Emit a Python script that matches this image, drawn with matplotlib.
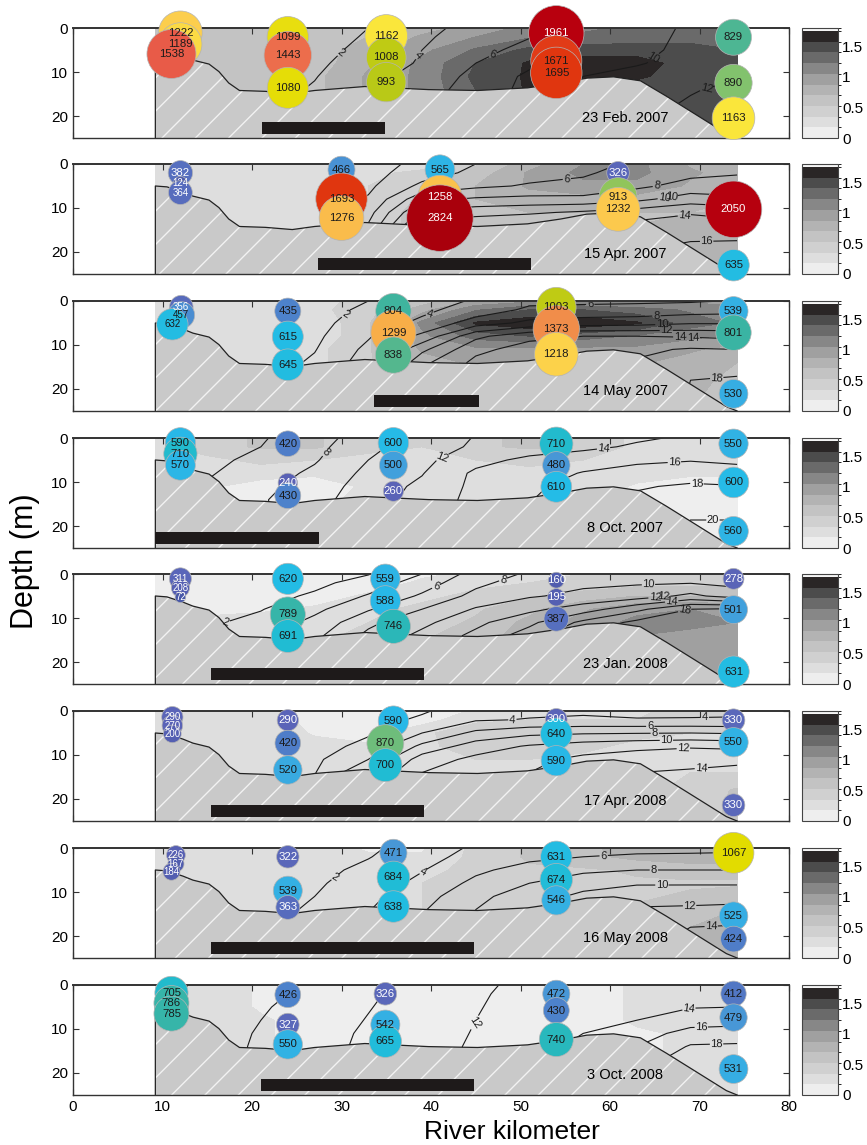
import numpy as np
import matplotlib
matplotlib.use("Agg")
import matplotlib.pyplot as plt
from matplotlib.colors import ListedColormap, BoundaryNorm, LinearSegmentedColormap, Normalize
from matplotlib.patches import Polygon, Rectangle
from matplotlib.cm import ScalarMappable

plt.rcParams['font.family'] = ['Liberation Sans', 'DejaVu Sans']
plt.rcParams['hatch.linewidth'] = 1.0

# ------------------------------------------------------------------ data
GRID_KM = [9.2, 15, 21, 27, 33, 39, 45, 51, 57, 63, 69, 74.2]
GRID_DEPTH = [0, 2, 5, 8, 11, 14, 18, 25]

BATH_KM = [9.2, 10.5, 12.3, 13.4, 15.2, 16.3, 17.4, 18.6, 21.5, 24.5, 27.0, 32.6,
           39.7, 45.2, 50.8, 54.5, 57.4, 60.4, 63.4, 66.3, 69.3, 73.0, 74.2]
BATH_DEPTH = [5.0, 5.2, 6.4, 7.3, 8.2, 9.9, 12.5, 14.2, 14.4, 14.9, 14.2, 13.3,
              14.0, 14.2, 13.6, 12.5, 11.4, 11.1, 12.0, 15.5, 19.3, 24.0, 25.0]

DATES = ["23 Feb. 2007", "15 Apr. 2007", "14 May 2007", "8 Oct. 2007",
         "23 Jan. 2008", "17 Apr. 2008", "16 May 2008", "3 Oct. 2008"]
BAR_START = [21.1, 27.4, 33.6, 9.2, 15.4, 15.4, 15.4, 21.0]
BAR_END = [34.9, 51.2, 45.4, 27.5, 39.2, 39.2, 44.8, 44.8]

SAL_LEVELS = [2, 4, 6, 8, 10, 12, 14, 16, 18, 20]
GRAY_LEVELS = [0, 0.175, 0.35, 0.525, 0.7, 0.875, 1.05, 1.225, 1.4, 1.575, 1.75, 1.8]

# salinity fields (rows = GRID_DEPTH, cols = GRID_KM)
SAL_1 = [
    [0.2, 0.3, 0.5, 1.0, 2.0, 3.5, 4.6, 5.6, 8.2, 9.2, 10.3, 10.8],
    [0.2, 0.3, 0.6, 1.1, 2.2, 3.7, 4.9, 5.9, 8.4, 9.3, 10.4, 10.9],
    [0.2, 0.3, 0.7, 1.3, 2.6, 4.0, 5.3, 6.7, 8.8, 9.5, 10.5, 11.0],
    [0.2, 0.4, 0.8, 1.6, 3.0, 4.2, 6.0, 7.6, 9.2, 9.8, 10.9, 11.4],
    [0.3, 0.5, 1.0, 1.9, 3.5, 4.6, 6.6, 8.4, 10.0, 10.8, 11.5, 11.9],
    [0.3, 0.5, 1.2, 2.2, 3.8, 5.0, 7.0, 8.5, 10.4, 11.3, 11.9, 12.3],
    [0.3, 0.5, 1.2, 2.2, 3.8, 5.0, 7.0, 8.5, 10.5, 11.6, 12.2, 12.5],
    [0.3, 0.5, 1.2, 2.2, 3.8, 5.0, 7.0, 8.5, 10.5, 11.8, 12.4, 12.8]]
SAL_2 = [
    [0.3, 0.3, 0.4, 0.6, 1.2, 2.5, 4.0, 5.0, 5.6, 6.2, 7.0, 7.6],
    [0.3, 0.3, 0.4, 0.6, 1.3, 3.0, 4.5, 5.3, 5.8, 6.6, 7.5, 7.9],
    [0.3, 0.3, 0.4, 0.7, 1.6, 4.5, 5.6, 6.2, 6.4, 7.6, 8.7, 8.5],
    [0.3, 0.3, 0.5, 0.9, 2.2, 7.5, 8.3, 8.6, 8.6, 9.5, 11.0, 10.6],
    [0.3, 0.4, 0.6, 1.2, 3.2, 10.5, 11.3, 11.7, 12.3, 13.0, 13.8, 13.3],
    [0.3, 0.4, 0.7, 1.5, 4.2, 13.0, 13.5, 14.0, 14.3, 14.6, 15.0, 14.8],
    [0.3, 0.4, 0.7, 1.5, 4.2, 13.0, 13.5, 14.0, 14.5, 15.5, 16.1, 16.2],
    [0.3, 0.4, 0.7, 1.5, 4.2, 13.0, 13.5, 14.0, 14.5, 16.0, 17.0, 17.0]]
SAL_3 = [
    [0.3, 0.4, 0.6, 1.0, 2.0, 3.2, 4.2, 5.5, 5.6, 5.7, 5.8, 6.1],
    [0.3, 0.4, 0.6, 1.2, 2.4, 3.6, 4.8, 6.4, 6.6, 6.7, 7.0, 7.2],
    [0.3, 0.4, 0.7, 1.4, 3.0, 4.4, 7.0, 8.5, 9.0, 9.2, 9.8, 9.8],
    [0.3, 0.4, 0.8, 1.6, 3.8, 6.5, 11.5, 13.5, 14.0, 14.0, 13.8, 13.5],
    [0.3, 0.5, 0.9, 1.9, 4.5, 9.5, 13.5, 14.8, 15.3, 15.6, 16.2, 16.0],
    [0.4, 0.5, 1.0, 2.3, 5.0, 11.5, 14.5, 15.3, 15.8, 16.2, 17.2, 17.3],
    [0.4, 0.5, 1.0, 2.3, 5.0, 11.5, 14.5, 15.3, 15.8, 16.4, 18.0, 18.2],
    [0.4, 0.5, 1.0, 2.3, 5.0, 11.5, 14.5, 15.3, 15.8, 16.5, 18.3, 18.5]]
SAL_4 = [
    [4.3, 5.0, 5.8, 7.2, 9.0, 10.9, 12.1, 12.6, 13.0, 13.7, 14.3, 14.5],
    [4.4, 5.2, 6.0, 7.4, 9.5, 11.0, 12.3, 12.9, 13.5, 14.3, 15.0, 15.2],
    [4.6, 5.5, 6.5, 7.8, 10.0, 11.5, 13.3, 14.5, 15.2, 15.6, 15.9, 15.6],
    [4.9, 5.8, 7.0, 8.4, 10.5, 11.9, 14.4, 15.2, 16.1, 16.8, 17.0, 16.8],
    [5.2, 6.2, 7.5, 8.8, 11.0, 12.4, 14.5, 15.6, 16.8, 17.8, 18.3, 18.1],
    [5.3, 6.4, 7.8, 9.2, 11.3, 12.6, 14.7, 15.9, 17.2, 18.4, 18.8, 18.7],
    [5.3, 6.4, 7.8, 9.2, 11.3, 12.6, 14.7, 15.9, 17.4, 19.0, 19.9, 19.9],
    [5.3, 6.4, 7.8, 9.2, 11.3, 12.6, 14.7, 15.9, 17.5, 19.5, 21.0, 21.0]]
SAL_5 = [
    [0.2, 0.4, 0.7, 1.2, 1.9, 4.0, 6.8, 8.3, 9.0, 9.4, 9.6, 9.2],
    [0.3, 0.5, 0.9, 1.5, 2.8, 5.0, 7.5, 9.0, 9.6, 9.8, 9.9, 9.5],
    [0.5, 0.8, 1.3, 2.3, 4.2, 6.3, 8.6, 9.8, 10.5, 11.0, 12.5, 11.0],
    [0.8, 1.2, 1.9, 3.5, 5.8, 8.0, 10.2, 11.5, 13.0, 15.5, 18.0, 18.3],
    [1.0, 1.7, 2.6, 4.6, 7.5, 9.5, 11.5, 13.5, 16.5, 18.5, 18.8, 18.8],
    [1.2, 2.0, 3.0, 5.5, 8.5, 10.5, 12.5, 15.0, 18.3, 18.8, 19.0, 19.0],
    [1.2, 2.0, 3.0, 5.5, 8.5, 10.5, 12.5, 15.0, 18.5, 19.0, 19.2, 19.2],
    [1.2, 2.0, 3.0, 5.5, 8.5, 10.5, 12.5, 15.0, 18.5, 19.0, 19.2, 19.2]]
SAL_6 = [
    [0.3, 0.4, 0.5, 0.7, 1.0, 1.8, 3.0, 3.6, 3.8, 3.6, 3.7, 3.8],
    [0.3, 0.4, 0.5, 0.8, 1.3, 2.3, 3.8, 4.1, 4.2, 4.1, 4.1, 4.1],
    [0.3, 0.4, 0.6, 1.0, 1.8, 4.0, 6.5, 7.5, 7.8, 7.9, 8.0, 7.8],
    [0.3, 0.5, 0.7, 1.3, 2.5, 6.5, 9.0, 10.2, 11.0, 11.5, 11.8, 11.5],
    [0.4, 0.6, 0.9, 1.6, 4.0, 9.0, 10.5, 11.5, 12.5, 13.0, 13.2, 13.6],
    [0.4, 0.6, 1.0, 1.9, 6.0, 10.0, 11.0, 12.0, 12.8, 14.0, 14.3, 14.5],
    [0.4, 0.6, 1.0, 1.9, 6.0, 10.0, 11.0, 12.0, 12.8, 14.2, 14.8, 15.0],
    [0.4, 0.6, 1.0, 1.9, 6.0, 10.0, 11.0, 12.0, 12.8, 14.2, 14.8, 15.0]]
SAL_7 = [
    [0.3, 0.4, 0.6, 0.9, 1.6, 3.0, 4.3, 5.0, 5.4, 5.6, 5.7, 5.8],
    [0.3, 0.4, 0.7, 1.1, 1.9, 3.3, 4.7, 5.5, 6.0, 6.2, 6.2, 6.2],
    [0.3, 0.5, 0.8, 1.4, 2.5, 3.9, 5.6, 6.8, 7.6, 8.0, 8.0, 8.0],
    [0.3, 0.5, 1.0, 1.7, 3.0, 4.5, 6.5, 8.0, 9.2, 9.8, 9.8, 9.8],
    [0.4, 0.6, 1.2, 2.0, 3.5, 5.2, 7.5, 9.0, 10.5, 11.2, 11.3, 11.3],
    [0.4, 0.7, 1.3, 2.3, 3.9, 5.8, 8.0, 9.8, 11.5, 12.2, 12.3, 12.5],
    [0.4, 0.7, 1.3, 2.3, 3.9, 5.8, 8.0, 9.8, 11.8, 13.5, 14.0, 14.2],
    [0.4, 0.7, 1.3, 2.3, 3.9, 5.8, 8.0, 9.8, 12.0, 14.0, 15.0, 15.0]]
SAL_8 = [
    [5.5, 6.3, 7.3, 8.3, 9.5, 10.6, 11.7, 12.4, 13.0, 13.2, 13.4, 13.5],
    [5.6, 6.4, 7.5, 8.5, 9.7, 10.8, 11.8, 12.5, 13.1, 13.4, 13.6, 13.7],
    [5.8, 6.6, 7.8, 8.8, 9.9, 11.0, 11.9, 12.6, 13.2, 13.6, 13.9, 14.0],
    [6.0, 6.8, 8.0, 9.0, 10.1, 11.1, 12.0, 12.8, 13.5, 14.0, 15.0, 15.2],
    [6.1, 7.0, 8.2, 9.2, 10.3, 11.3, 12.1, 13.0, 14.0, 15.0, 16.8, 17.0],
    [6.2, 7.1, 8.3, 9.3, 10.4, 11.4, 12.2, 13.2, 14.5, 16.0, 18.2, 18.3],
    [6.2, 7.1, 8.3, 9.3, 10.4, 11.4, 12.2, 13.2, 14.5, 17.5, 19.0, 19.0],
    [6.2, 7.1, 8.3, 9.3, 10.4, 11.4, 12.2, 13.2, 14.5, 17.5, 19.0, 19.0]]

# gray-shaded field (colour bar 0 - 1.8)
GRAY_1 = [
    [0.55, 0.55, 0.55, 0.55, 0.6, 0.8, 0.95, 1.1, 1.2, 1.25, 1.3, 1.35],
    [0.55, 0.55, 0.55, 0.6, 0.7, 0.9, 1.05, 1.2, 1.25, 1.3, 1.35, 1.4],
    [0.55, 0.55, 0.55, 0.6, 0.8, 1.0, 1.25, 1.45, 1.5, 1.5, 1.45, 1.4],
    [0.55, 0.55, 0.55, 0.6, 0.85, 1.1, 1.4, 1.6, 1.65, 1.65, 1.5, 1.45],
    [0.55, 0.55, 0.55, 0.65, 0.9, 1.1, 1.45, 1.6, 1.65, 1.6, 1.5, 1.45],
    [0.55, 0.55, 0.55, 0.65, 0.9, 1.1, 1.4, 1.6, 1.6, 1.5, 1.45, 1.45],
    [0.55, 0.55, 0.55, 0.65, 0.9, 1.1, 1.4, 1.6, 1.6, 1.5, 1.45, 1.45],
    [0.55, 0.55, 0.55, 0.65, 0.9, 1.1, 1.4, 1.6, 1.6, 1.5, 1.45, 1.45]]
GRAY_2 = [
    [0.3, 0.3, 0.3, 0.3, 0.3, 0.25, 0.5, 0.8, 1.05, 1.1, 0.85, 0.8],
    [0.3, 0.3, 0.3, 0.3, 0.3, 0.4, 0.6, 0.9, 1.1, 1.1, 0.9, 0.8],
    [0.3, 0.3, 0.3, 0.3, 0.35, 0.5, 0.7, 0.9, 1.0, 1.0, 0.85, 0.75],
    [0.3, 0.3, 0.3, 0.3, 0.35, 0.55, 0.7, 0.8, 0.8, 0.8, 0.75, 0.7],
    [0.3, 0.3, 0.3, 0.3, 0.4, 0.6, 0.7, 0.7, 0.7, 0.7, 0.7, 0.7],
    [0.3, 0.3, 0.3, 0.3, 0.4, 0.6, 0.7, 0.7, 0.7, 0.7, 0.75, 0.75],
    [0.3, 0.3, 0.3, 0.3, 0.4, 0.6, 0.7, 0.7, 0.7, 0.7, 0.75, 0.75],
    [0.3, 0.3, 0.3, 0.3, 0.4, 0.6, 0.7, 0.7, 0.7, 0.7, 0.75, 0.75]]
GRAY_3 = [
    [0.3, 0.3, 0.3, 0.3, 0.4, 0.6, 0.9, 1.0, 1.0, 1.0, 1.0, 1.0],
    [0.3, 0.3, 0.3, 0.3, 0.45, 0.8, 1.2, 1.4, 1.4, 1.3, 1.2, 1.1],
    [0.3, 0.3, 0.2, 0.2, 0.5, 1.1, 1.6, 1.7, 1.7, 1.6, 1.3, 1.2],
    [0.3, 0.3, 0.2, 0.2, 0.5, 1.0, 1.3, 1.4, 1.3, 1.2, 1.1, 1.0],
    [0.3, 0.3, 0.2, 0.3, 0.5, 0.9, 1.0, 1.0, 1.0, 1.0, 0.9, 0.8],
    [0.3, 0.3, 0.3, 0.3, 0.5, 0.8, 0.9, 0.9, 0.9, 0.9, 0.8, 0.7],
    [0.3, 0.3, 0.3, 0.3, 0.5, 0.8, 0.9, 0.9, 0.9, 0.9, 0.8, 0.6],
    [0.3, 0.3, 0.3, 0.3, 0.5, 0.8, 0.9, 0.9, 0.9, 0.9, 0.7, 0.1]]
GRAY_4 = [
    [0.3, 0.45, 0.55, 0.55, 0.4, 0.35, 0.5, 0.55, 0.5, 0.3, 0.3, 0.3],
    [0.3, 0.45, 0.55, 0.55, 0.4, 0.35, 0.5, 0.55, 0.5, 0.3, 0.3, 0.3],
    [0.3, 0.3, 0.4, 0.35, 0.3, 0.3, 0.35, 0.4, 0.35, 0.3, 0.3, 0.3],
    [0.3, 0.3, 0.25, 0.2, 0.3, 0.3, 0.3, 0.3, 0.3, 0.25, 0.2, 0.2],
    [0.3, 0.2, 0.1, 0.1, 0.2, 0.3, 0.3, 0.3, 0.3, 0.15, 0.1, 0.1],
    [0.3, 0.2, 0.1, 0.1, 0.25, 0.3, 0.3, 0.3, 0.25, 0.1, 0.1, 0.1],
    [0.3, 0.2, 0.1, 0.1, 0.25, 0.3, 0.3, 0.3, 0.25, 0.1, 0.1, 0.1],
    [0.3, 0.2, 0.1, 0.1, 0.25, 0.3, 0.3, 0.3, 0.25, 0.1, 0.1, 0.1]]
GRAY_5 = [
    [0.1, 0.05, 0.05, 0.05, 0.05, 0.15, 0.2, 0.3, 0.35, 0.4, 0.4, 0.4],
    [0.1, 0.05, 0.05, 0.05, 0.1, 0.2, 0.3, 0.35, 0.4, 0.45, 0.45, 0.45],
    [0.1, 0.1, 0.1, 0.1, 0.2, 0.3, 0.4, 0.5, 0.6, 0.7, 0.7, 0.7],
    [0.15, 0.15, 0.15, 0.2, 0.3, 0.4, 0.5, 0.65, 0.85, 1.0, 1.05, 1.0],
    [0.2, 0.2, 0.25, 0.3, 0.35, 0.45, 0.55, 0.75, 0.95, 1.1, 1.1, 1.05],
    [0.2, 0.2, 0.3, 0.3, 0.4, 0.5, 0.6, 0.8, 0.95, 1.05, 1.0, 1.0],
    [0.2, 0.2, 0.3, 0.3, 0.4, 0.5, 0.6, 0.8, 0.95, 1.0, 0.95, 0.95],
    [0.2, 0.2, 0.3, 0.3, 0.4, 0.5, 0.6, 0.8, 0.95, 1.0, 0.95, 0.95]]
GRAY_6 = [
    [0.35, 0.35, 0.3, 0.05, 0.05, 0.05, 0.2, 0.25, 0.25, 0.3, 0.45, 0.5],
    [0.35, 0.35, 0.3, 0.1, 0.05, 0.1, 0.3, 0.35, 0.35, 0.35, 0.5, 0.5],
    [0.35, 0.35, 0.35, 0.15, 0.1, 0.3, 0.5, 0.5, 0.45, 0.4, 0.35, 0.35],
    [0.35, 0.35, 0.35, 0.25, 0.2, 0.3, 0.45, 0.45, 0.4, 0.3, 0.3, 0.3],
    [0.35, 0.35, 0.3, 0.3, 0.25, 0.3, 0.35, 0.35, 0.3, 0.3, 0.3, 0.3],
    [0.35, 0.35, 0.3, 0.3, 0.3, 0.3, 0.3, 0.3, 0.3, 0.3, 0.35, 0.35],
    [0.35, 0.35, 0.3, 0.3, 0.3, 0.3, 0.3, 0.3, 0.3, 0.3, 0.4, 0.55],
    [0.35, 0.35, 0.3, 0.3, 0.3, 0.3, 0.3, 0.3, 0.3, 0.3, 0.4, 0.6]]
GRAY_7 = [
    [0.3, 0.3, 0.3, 0.25, 0.15, 0.15, 0.4, 0.55, 0.65, 0.8, 0.85, 0.85],
    [0.3, 0.3, 0.3, 0.25, 0.2, 0.2, 0.4, 0.55, 0.65, 0.75, 0.8, 0.8],
    [0.3, 0.3, 0.3, 0.3, 0.3, 0.3, 0.4, 0.5, 0.5, 0.55, 0.6, 0.6],
    [0.3, 0.3, 0.3, 0.3, 0.3, 0.35, 0.4, 0.45, 0.45, 0.5, 0.5, 0.5],
    [0.3, 0.3, 0.3, 0.3, 0.3, 0.35, 0.4, 0.45, 0.45, 0.5, 0.55, 0.6],
    [0.3, 0.3, 0.3, 0.3, 0.3, 0.35, 0.4, 0.45, 0.5, 0.55, 0.65, 0.7],
    [0.3, 0.3, 0.3, 0.3, 0.3, 0.35, 0.4, 0.45, 0.5, 0.55, 0.7, 0.75],
    [0.3, 0.3, 0.3, 0.3, 0.3, 0.35, 0.4, 0.45, 0.5, 0.55, 0.7, 0.75]]
GRAY_8 = [
    [0.35, 0.3, 0.15, 0.05, 0.05, 0.05, 0.05, 0.05, 0.1, 0.2, 0.25, 0.25],
    [0.35, 0.3, 0.15, 0.05, 0.05, 0.05, 0.05, 0.05, 0.1, 0.2, 0.25, 0.25],
    [0.35, 0.3, 0.15, 0.05, 0.05, 0.05, 0.05, 0.05, 0.1, 0.2, 0.25, 0.25],
    [0.35, 0.3, 0.2, 0.1, 0.05, 0.05, 0.05, 0.05, 0.1, 0.2, 0.2, 0.2],
    [0.35, 0.3, 0.2, 0.1, 0.05, 0.05, 0.05, 0.05, 0.1, 0.15, 0.2, 0.2],
    [0.35, 0.3, 0.2, 0.1, 0.1, 0.05, 0.05, 0.05, 0.1, 0.15, 0.2, 0.2],
    [0.35, 0.3, 0.2, 0.1, 0.1, 0.05, 0.05, 0.05, 0.1, 0.15, 0.2, 0.2],
    [0.35, 0.3, 0.2, 0.1, 0.1, 0.05, 0.05, 0.05, 0.1, 0.15, 0.2, 0.2]]

# sampling stations: river km, depth (m), value
KM_1 = [12, 12, 11, 24, 24, 24, 35, 35, 35, 54, 54, 54, 73.8, 73.8, 73.8]
DEP_1 = [1.1, 3.7, 5.9, 2.1, 6.2, 13.6, 1.8, 6.7, 12.3, 1.2, 7.5, 10.2, 2.1, 12.5, 20.5]
VAL_1 = [1222, 1189, 1538, 1099, 1443, 1080, 1162, 1008, 993, 1961, 1671, 1695, 829, 890, 1163]

KM_2 = [12, 12, 12, 30, 30, 30, 41, 41, 41, 60.9, 60.9, 60.9, 73.8, 73.8]
DEP_2 = [2.0, 4.4, 6.5, 1.3, 7.9, 12.3, 1.3, 7.6, 12.3, 2.0, 7.4, 10.3, 10.3, 23.0]
VAL_2 = [382, 124, 364, 466, 1693, 1276, 565, 1258, 2824, 326, 913, 1232, 2050, 635]

KM_3 = [12.1, 12.1, 11.1, 24, 24, 24, 35.8, 35.8, 35.8, 54, 54, 54, 73.8, 73.8, 73.8]
DEP_3 = [1.4, 3.2, 5.3, 2.3, 8.1, 14.5, 2.3, 7.2, 12.3, 1.4, 6.3, 12.1, 2.3, 7.2, 21.1]
VAL_3 = [356, 457, 632, 435, 615, 645, 804, 1299, 838, 1003, 1373, 1218, 539, 801, 530]

KM_4 = [12, 12, 12, 24, 24, 24, 35.8, 35.8, 35.8, 54, 54, 54, 73.8, 73.8, 73.8]
DEP_4 = [1.1, 3.6, 6.2, 1.3, 10.2, 13.1, 1.1, 6.2, 12.1, 1.3, 6.2, 11.1, 1.3, 10.1, 21.2]
VAL_4 = [590, 710, 570, 420, 240, 430, 600, 500, 260, 710, 480, 610, 550, 600, 560]

KM_5 = [12, 12, 12, 24, 24, 24, 34.9, 34.9, 35.8, 54, 54, 54, 73.8, 73.8, 73.8]
DEP_5 = [1.1, 3.2, 5.3, 1.1, 9.2, 14.1, 1.1, 6.1, 11.9, 1.4, 5.3, 10.2, 1.1, 8.1, 22.2]
VAL_5 = [311, 208, 72, 620, 789, 691, 559, 588, 746, 160, 195, 387, 278, 501, 631]

KM_6 = [11.1, 11.1, 11.1, 24, 24, 24, 35.8, 34.9, 34.9, 54, 54, 54, 73.8, 73.8, 73.8]
DEP_6 = [1.4, 3.3, 5.2, 2.1, 7.3, 13.4, 2.3, 7.3, 12.3, 1.9, 5.2, 11.3, 2.1, 7.1, 21.4]
VAL_6 = [290, 270, 200, 290, 420, 520, 590, 870, 700, 300, 640, 590, 330, 550, 330]

KM_7 = [11.5, 11.5, 11, 24, 24, 24, 35.8, 35.8, 35.8, 54, 54, 54, 73.8, 73.8, 73.8]
DEP_7 = [1.6, 3.6, 5.4, 2.0, 9.7, 13.5, 1.1, 6.7, 13.3, 2.0, 7.2, 11.9, 1.1, 15.5, 20.7]
VAL_7 = [226, 167, 184, 322, 539, 363, 471, 684, 638, 631, 674, 546, 1067, 525, 424]

KM_8 = [11, 11, 11, 24, 24, 24, 34.9, 34.9, 34.9, 54, 54, 54, 73.8, 73.8, 73.8]
DEP_8 = [1.8, 4.1, 6.5, 2.2, 9.0, 13.5, 2.0, 9.0, 12.8, 2.0, 5.8, 12.4, 2.0, 7.4, 19.1]
VAL_8 = [705, 786, 785, 426, 327, 550, 326, 542, 665, 472, 430, 740, 412, 479, 531]

# contour label anchor points (km, depth)
LAB_1 = [(30, 5.8), (39.3, 7.7), (47.2, 7.9), (65.4, 9.0), (70.8, 14.0)]
LAB_2 = [(55.2, 3.9), (65.2, 4.5), (66.0, 6.5), (66.9, 8.4), (68.3, 11.4), (70.8, 17.9)]
LAB_3 = [(30.8, 4.4), (40.0, 4.0), (57.8, 1.4), (65.2, 4.2), (65.8, 5.7), (66.3, 6.4),
         (67.8, 7.9), (69.3, 9.4), (71.9, 16.6)]
LAB_4 = [(28.6, 4.2), (41.3, 4.5), (59.3, 2.9), (67.2, 5.9), (69.7, 11.0), (71.5, 19.0)]
LAB_5 = [(17.1, 11.1), (40.8, 4.4), (48.2, 2.5), (64.3, 2.5), (65.0, 4.0), (66.0, 5.1),
         (66.9, 6.4), (68.3, 7.7)]
LAB_6 = [(49.1, 2.1), (70.6, 2.1), (64.5, 3.7), (65.0, 4.8), (66.3, 6.1), (68.2, 8.9), (70.2, 12.8)]
LAB_7 = [(29.7, 8.3), (39.4, 6.5), (59.3, 2.0), (64.9, 5.2), (65.8, 8.5), (68.9, 13.9), (71.3, 17.3)]
LAB_8 = [(24.4, 4.5), (46.6, 11.2), (68.9, 6.5), (70.2, 9.4), (71.9, 12.8)]

SALS = [SAL_1, SAL_2, SAL_3, SAL_4, SAL_5, SAL_6, SAL_7, SAL_8]
GRAYS = [GRAY_1, GRAY_2, GRAY_3, GRAY_4, GRAY_5, GRAY_6, GRAY_7, GRAY_8]
KMS = [KM_1, KM_2, KM_3, KM_4, KM_5, KM_6, KM_7, KM_8]
DEPS = [DEP_1, DEP_2, DEP_3, DEP_4, DEP_5, DEP_6, DEP_7, DEP_8]
VALS = [VAL_1, VAL_2, VAL_3, VAL_4, VAL_5, VAL_6, VAL_7, VAL_8]
LABS = [LAB_1, LAB_2, LAB_3, LAB_4, LAB_5, LAB_6, LAB_7, LAB_8]

# ------------------------------------------------------------------ styles
GRAY_COLORS = ['#eeeeee', '#dedede', '#d0d0d0', '#c3c3c3', '#b3b3b3', '#a0a0a0',
               '#878787', '#6a6a6a', '#4c4c4c', '#2a2626', '#f4f4f4']
ANCH_V = [72, 250, 330, 390, 430, 470, 520, 600, 690, 740, 800, 850, 900, 990, 1070,
          1160, 1230, 1300, 1375, 1450, 1540, 1690, 1950, 2900]
ANCH_C = ['#4858a8', '#5a62b6', '#5a68ba', '#5570c0', '#4c84cc', '#4896d6', '#38ace2',
          '#24bce8', '#20bcd4', '#28b8bc', '#3cb4a0', '#5cb888', '#88c468', '#b8c818',
          '#e2dc00', '#fae63c', '#fccc4e', '#f8b048', '#f08a4a', '#ec6c4c', '#e85a48',
          '#e0360f', '#b8000e', '#a8000c']
vmin, vmax = ANCH_V[0], ANCH_V[-1]
bub_cmap = LinearSegmentedColormap.from_list(
    'bub', [((v - vmin) / (vmax - vmin), c) for v, c in zip(ANCH_V, ANCH_C)])
bub_norm = Normalize(vmin, vmax)

W_PX, H_PX = 867, 1145
AX_L, AX_R = 73, 789
CB_L, CB_R = 802, 838
PANEL_TOP_PX = [28, 164, 301, 438, 574, 711, 848, 985]
PH = 110

fig = plt.figure(figsize=(W_PX / 100, H_PX / 100), dpi=100)
gcmap = ListedColormap(GRAY_COLORS)
gnorm = BoundaryNorm(GRAY_LEVELS, len(GRAY_COLORS))
X, Z = np.meshgrid(GRID_KM, GRID_DEPTH)

for i in range(8):
    top = PANEL_TOP_PX[i]
    bottom = 1 - (top + PH) / H_PX
    ax = fig.add_axes([AX_L / W_PX, bottom, (AX_R - AX_L) / W_PX, PH / H_PX])
    ax.patch.set_facecolor('none')

    ax.contourf(X, Z, np.array(GRAYS[i]), levels=GRAY_LEVELS, colors=GRAY_COLORS, zorder=1)
    cs = ax.contour(X, Z, np.array(SALS[i]), levels=SAL_LEVELS, colors='#1a1a1a',
                    linewidths=0.8, zorder=2)
    try:
        ax.clabel(cs, inline=True, fontsize=8, fmt='%d', manual=LABS[i], inline_spacing=2)
    except Exception:
        ax.clabel(cs, inline=True, fontsize=8, fmt='%d')

    verts = list(zip(BATH_KM, BATH_DEPTH)) + [(BATH_KM[0], 25.0)]
    ax.add_patch(Polygon(verts, closed=True, facecolor='#c9c9c9', edgecolor='#f2f2f2',
                         linewidth=0, hatch='/', zorder=3))
    ax.plot([BATH_KM[0]] + BATH_KM, [25.0] + BATH_DEPTH, color='#222222', lw=0.9, zorder=3.5)

    ax.add_patch(Rectangle((BAR_START[i], 21.3), BAR_END[i] - BAR_START[i], 2.7,
                           facecolor='#1e1a1a', edgecolor='none', zorder=4))
    ax.text(61.7, 20.4, DATES[i], ha='center', va='center', fontsize=10.5, zorder=4)

    kms = np.array(KMS[i], dtype=float)
    deps = np.array(DEPS[i], dtype=float)
    vals = np.array(VALS[i], dtype=float)
    ax.scatter(kms, deps, s=0.81 * vals, c=bub_cmap(bub_norm(vals)),
               edgecolors='#b4b4b4', linewidths=0.5, zorder=5, clip_on=False)
    for j, (k, d, v) in enumerate(zip(KMS[i], DEPS[i], VALS[i])):
        same = (np.abs(kms - k) < 1.5) & (np.arange(len(kms)) != j)
        gap = np.min(np.abs(deps[same] - d)) if same.any() else 99
        fs = 7.0 if gap < 2.15 else 8.2
        white = v < 385 or v >= 1900 or v == 1258
        ax.text(k, d, str(v), ha='center', va='center', fontsize=fs,
                color='white' if white else '#1a1a1a', zorder=6, clip_on=False)

    ax.set_xlim(0, 80)
    ax.set_ylim(25, 0)
    ax.set_xticks(range(0, 81, 10))
    ax.set_yticks([0, 10, 20])
    ax.tick_params(direction='in', length=4, width=0.8, top=True, right=True,
                   labelsize=11, colors='#333333', labelcolor='black')
    if i < 7:
        ax.tick_params(labelbottom=False)
    for sp in ax.spines.values():
        sp.set_color('#333333')
        sp.set_linewidth(1.0)
        sp.set_zorder(4.5)
    ax.spines['top'].set_linewidth(1.4)

    cax = fig.add_axes([CB_L / W_PX, bottom, (CB_R - CB_L) / W_PX, PH / H_PX])
    cb = fig.colorbar(ScalarMappable(norm=gnorm, cmap=gcmap), cax=cax,
                      ticks=[0, 0.5, 1, 1.5], spacing='proportional')
    cb.ax.set_yticklabels(['0', '0.5', '1', '1.5'])
    cb.ax.tick_params(length=0, labelsize=11, pad=3)
    cb.outline.set_linewidth(0.8)
    cb.outline.set_edgecolor('#444444')

fig.text(512 / W_PX, 1 - 1132 / H_PX, 'River kilometer', ha='center', va='center', fontsize=19)
fig.text(25 / W_PX, 1 - 561 / H_PX, 'Depth (m)', rotation=90, ha='center', va='center',
         fontsize=22)

fig.savefig('out.png', dpi=100)
